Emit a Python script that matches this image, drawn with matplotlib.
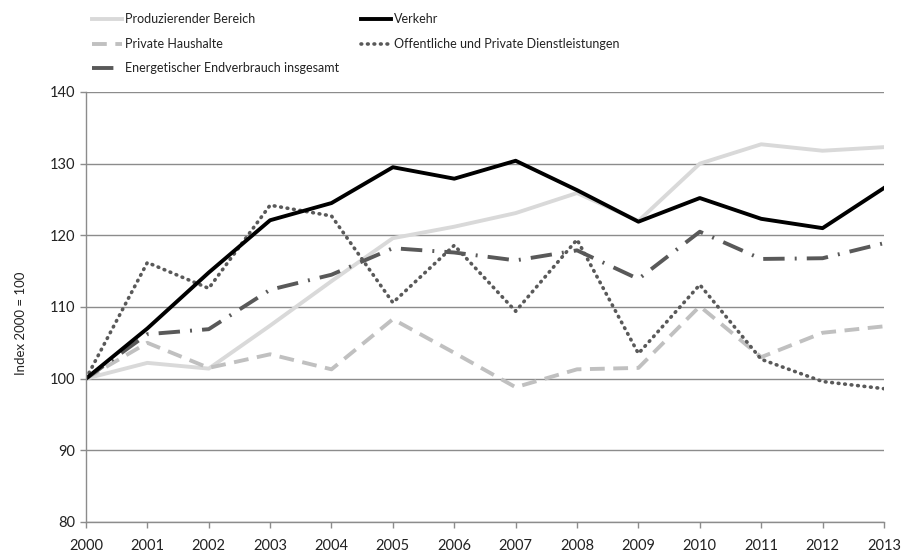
import matplotlib
matplotlib.use("Agg")
import matplotlib.pyplot as plt

plt.rcParams['font.family'] = ['Lato', 'DejaVu Sans']

years = list(range(2000, 2014))

produzierend = [100, 102.2, 101.4, 107.4, 113.6, 119.6, 121.2, 123.1, 125.9, 122.0, 130.0, 132.7, 131.8, 132.3]
verkehr = [100, 107.0, 114.8, 122.1, 124.5, 129.5, 127.9, 130.4, 126.3, 121.9, 125.2, 122.3, 121.0, 126.6]
haushalte = [100, 105.0, 101.5, 103.4, 101.3, 108.3, 103.6, 98.8, 101.3, 101.5, 110.1, 103.0, 106.4, 107.3]
dienstleistungen = [100, 116.2, 112.6, 124.2, 122.7, 110.6, 118.6, 109.4, 119.4, 103.5, 113.1, 102.7, 99.6, 98.6]
gesamt = [100, 106.2, 106.9, 112.4, 114.5, 118.2, 117.6, 116.5, 117.9, 113.9, 120.5, 116.7, 116.8, 118.9]

fig = plt.figure(figsize=(9.02, 5.54), dpi=100)
ax = fig.add_axes([0.0953, 0.0578, 0.8847, 0.7762])

gridc = '#8c8c8c'
textc = '#222222'
ax.set_xlim(2000, 2013)
ax.set_ylim(80, 140)
ax.set_yticks(range(80, 141, 10))
ax.set_xticks(years)
ax.yaxis.grid(True, color=gridc, linewidth=1)
ax.set_axisbelow(True)
for s in ['top', 'right']:
    ax.spines[s].set_visible(False)
for s in ['left', 'bottom']:
    ax.spines[s].set_color(gridc)
    ax.spines[s].set_linewidth(1)
ax.tick_params(axis='both', colors=gridc, length=4, width=1, labelcolor=textc, labelsize=10.5)
ax.tick_params(axis='x', pad=8)
ax.set_ylabel('Index 2000 = 100', fontsize=9.5, color=textc)
ax.yaxis.set_label_coords(-0.074, 0.463)

l1, = ax.plot(years, produzierend, color='#d9d9d9', linewidth=2.8, label='Produzierender Bereich')
l3, = ax.plot(years, haushalte, color='#c0c0c0', linewidth=2.8, dashes=(3.8, 2.2), label='Private Haushalte')
l5, = ax.plot(years, gesamt, color='#595959', linewidth=2.8, dashes=(5.5, 2.6, 0.5, 2.6), label='Energetischer Endverbrauch insgesamt')
l4, = ax.plot(years, dienstleistungen, color='#595959', linewidth=2.6, dashes=(0.2, 1.6), dash_capstyle='round', label='Offentliche und Private Dienstleistungen')
l2, = ax.plot(years, verkehr, color='#000000', linewidth=2.8, label='Verkehr')

leg = fig.legend(handles=[l1, l3, l5, l2, l4], ncol=2, loc='upper left',
                 bbox_to_anchor=(0.089, 0.996), frameon=False, fontsize=9,
                 handlelength=2.4, handletextpad=0.25, columnspacing=1.8,
                 labelspacing=1.0)
for t in leg.get_texts():
    t.set_color(textc)

fig.savefig('out.png', dpi=100)
